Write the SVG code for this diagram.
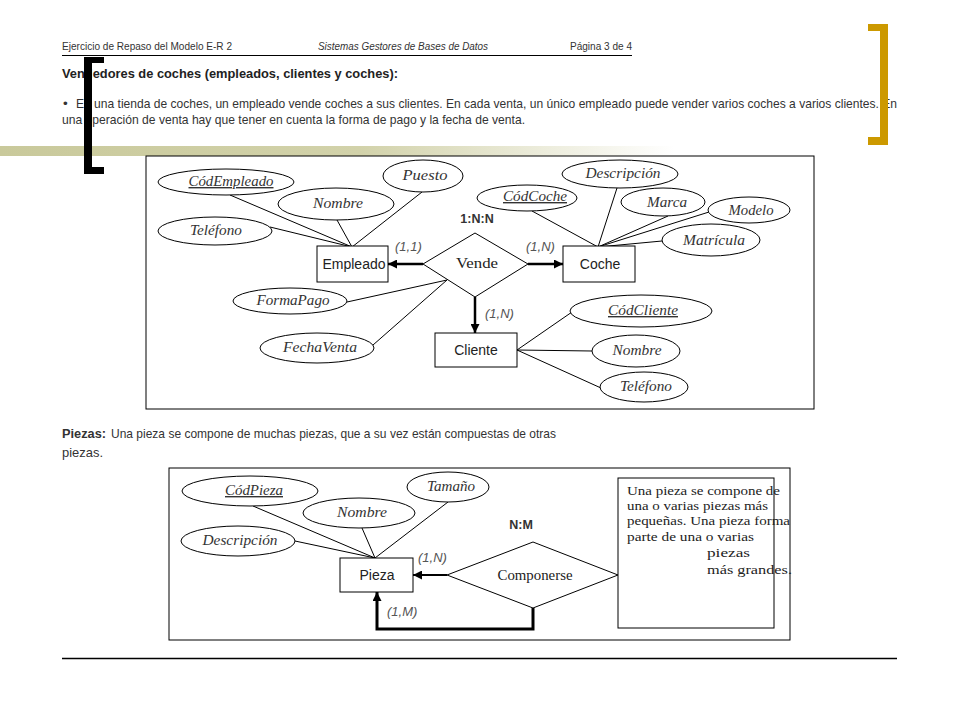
<svg xmlns="http://www.w3.org/2000/svg" width="960" height="720" viewBox="0 0 960 720">
<style>
.hdr{font-family:"Liberation Sans",Arial,sans-serif;font-size:10.5px;fill:#333}
.body{font-family:"Liberation Sans",Arial,sans-serif;font-size:13.5px;fill:#333}
.title{font-family:"Liberation Sans",Arial,sans-serif;font-size:13.5px;font-weight:bold;fill:#222}
.attr{font-family:"Liberation Serif","Times New Roman",serif;font-size:14px;font-style:italic;fill:#333;text-anchor:middle}
.key{text-decoration:underline}
.ell{fill:#fff;stroke:#000;stroke-width:1}
.ent{fill:#fff;stroke:#000;stroke-width:1}
.entt{font-family:"Liberation Sans",Arial,sans-serif;font-size:14px;fill:#222;text-anchor:middle}
.rel{fill:#fff;stroke:#000;stroke-width:1}
.relt{font-family:"Liberation Serif","Times New Roman",serif;font-size:14.5px;fill:#222;text-anchor:middle}
.card{font-family:"Liberation Sans",Arial,sans-serif;font-size:13px;font-style:italic;fill:#555}
.ratio{font-family:"Liberation Sans",Arial,sans-serif;font-size:12.5px;font-weight:bold;fill:#333;text-anchor:middle}
.ln{stroke:#000;stroke-width:1;fill:none}
.thick{stroke:#000;stroke-width:2.5;fill:none}
.note{font-family:"Liberation Serif","Times New Roman",serif;font-size:13.5px;fill:#222}
</style>
<defs>
<linearGradient id="bar" x1="0" y1="0" x2="1" y2="0">
<stop offset="0" stop-color="#C9C99B"/>
<stop offset="0.4" stop-color="#D2D2AA"/>
<stop offset="0.75" stop-color="#FFFFFF"/>
</linearGradient>
<marker id="ah" viewBox="0 0 10 10" refX="10" refY="5" markerUnits="userSpaceOnUse" markerWidth="9" markerHeight="9" orient="auto">
<path d="M0,0 L10,5 L0,10 z" fill="#000"/>
</marker>
</defs>
<rect width="960" height="720" fill="#fff"/>

<!-- decorative bar -->
<rect x="0" y="146" width="900" height="10" fill="url(#bar)"/>

<!-- header -->
<g id="header">
<text class="hdr" x="62" y="50" textLength="170" lengthAdjust="spacingAndGlyphs">Ejercicio de Repaso del Modelo E-R 2</text>
<text class="hdr" x="318" y="50" font-style="italic" textLength="170" lengthAdjust="spacingAndGlyphs">Sistemas Gestores de Bases de Datos</text>
<text class="hdr" x="570" y="50" textLength="62" lengthAdjust="spacingAndGlyphs">Página 3 de 4</text>
<line x1="62" y1="55.5" x2="632" y2="55.5" stroke="#000" stroke-width="1"/>
</g>

<g id="intro">
<text class="title" x="62" y="78" textLength="336" lengthAdjust="spacingAndGlyphs">Vendedores de coches (empleados, clientes y coches):</text>
<text class="body" x="63" y="108">•</text>
<text class="body" x="76" y="108" textLength="821" lengthAdjust="spacingAndGlyphs">En una tienda de coches, un empleado vende coches a sus clientes. En cada venta, un único empleado puede vender varios coches a varios clientes. En</text>
<text class="body" x="62" y="124" textLength="463" lengthAdjust="spacingAndGlyphs">una operación de venta hay que tener en cuenta la forma de pago y la fecha de venta.</text>
</g>

<!-- top diagram frame -->
<rect x="146" y="156" width="668" height="253" fill="none" stroke="#000" stroke-width="1"/>

<g id="connectors">
<!-- Empleado attributes -->
<line class="ln" x1="352" y1="247" x2="230" y2="195"/>
<line class="ln" x1="352" y1="247" x2="270" y2="227"/>
<line class="ln" x1="352" y1="247" x2="337" y2="220"/>
<line class="ln" x1="352" y1="247" x2="422" y2="192"/>
<!-- Coche attributes -->
<line class="ln" x1="598" y1="247" x2="532" y2="211"/>
<line class="ln" x1="598" y1="247" x2="617" y2="188"/>
<line class="ln" x1="598" y1="247" x2="668" y2="216"/>
<line class="ln" x1="598" y1="247" x2="709" y2="212"/>
<line class="ln" x1="598" y1="247" x2="662" y2="241"/>
<!-- Vende attributes -->
<line class="ln" x1="447" y1="280" x2="347" y2="302"/>
<line class="ln" x1="447" y1="280" x2="373" y2="345"/>
<!-- Cliente attributes -->
<line class="ln" x1="517" y1="350" x2="572" y2="312"/>
<line class="ln" x1="517" y1="350" x2="592" y2="351"/>
<line class="ln" x1="517" y1="350" x2="601" y2="388"/>
<!-- Vende arrows -->
<line class="thick" x1="423" y1="264" x2="388" y2="264" marker-end="url(#ah)"/>
<line class="thick" x1="528" y1="264" x2="563" y2="264" marker-end="url(#ah)"/>
<line class="thick" x1="475" y1="297" x2="475" y2="333" marker-end="url(#ah)"/>
<!-- Pieza attributes -->
<line class="ln" x1="375" y1="558" x2="253" y2="506"/>
<line class="ln" x1="375" y1="558" x2="295" y2="541"/>
<line class="ln" x1="375" y1="558" x2="362" y2="528"/>
<line class="ln" x1="375" y1="558" x2="448" y2="502"/>
<!-- Componerse -->
<line x1="447" y1="575" x2="413" y2="575" stroke="#000" stroke-width="2" marker-end="url(#ah)"/>
<path d="M533,608 V629 H377 V592" stroke="#000" stroke-width="3" fill="none" marker-end="url(#ah)"/>
</g>

<g id="cardinalities">
<text class="ratio" x="477" y="223">1:N:N</text>
<text class="card" x="395" y="251">(1,1)</text>
<text class="card" x="526" y="251">(1,N)</text>
<text class="card" x="485" y="318">(1,N)</text>
<text class="ratio" x="521" y="529">N:M</text>
<text class="card" x="418" y="562">(1,N)</text>
<text class="card" x="387" y="616">(1,M)</text>
</g>

<!-- entities -->
<g id="empleado"><rect class="ent" x="317" y="246" width="71" height="36"/><text class="entt" x="354" y="269">Empleado</text></g>
<g id="coche"><rect class="ent" x="563" y="246" width="72" height="36"/><text class="entt" x="600" y="269">Coche</text></g>
<g id="cliente"><rect class="ent" x="435" y="333" width="82" height="34"/><text class="entt" x="476" y="355">Cliente</text></g>
<g id="vende"><polygon class="rel" points="475,233 528,264 475,297 423,264"/><text class="relt" x="477" y="268" textLength="42" lengthAdjust="spacingAndGlyphs">Vende</text></g>

<!-- attributes top -->
<g id="codEmpleado"><ellipse class="ell" cx="226" cy="182" rx="68" ry="13"/><text class="attr key" x="231" y="186" textLength="85" lengthAdjust="spacingAndGlyphs">CódEmpleado</text></g>
<g id="nombreEmpleado"><ellipse class="ell" cx="336" cy="204" rx="58" ry="16"/><text class="attr" x="338" y="208" textLength="50" lengthAdjust="spacingAndGlyphs">Nombre</text></g>
<g id="telefonoEmpleado"><ellipse class="ell" cx="215" cy="231" rx="57" ry="14"/><text class="attr" x="216" y="235" textLength="52" lengthAdjust="spacingAndGlyphs">Teléfono</text></g>
<g id="puesto"><ellipse class="ell" cx="423" cy="176" rx="40" ry="16"/><text class="attr" x="425" y="180" textLength="45" lengthAdjust="spacingAndGlyphs">Puesto</text></g>
<g id="codCoche"><ellipse class="ell" cx="527" cy="198" rx="50" ry="13"/><text class="attr key" x="535" y="201" textLength="64" lengthAdjust="spacingAndGlyphs">CódCoche</text></g>
<g id="descripcionCoche"><ellipse class="ell" cx="620" cy="174" rx="58" ry="14"/><text class="attr" x="623" y="178" textLength="75" lengthAdjust="spacingAndGlyphs">Descripción</text></g>
<g id="marca"><ellipse class="ell" cx="663" cy="202" rx="42" ry="14"/><text class="attr" x="667" y="207" textLength="40" lengthAdjust="spacingAndGlyphs">Marca</text></g>
<g id="modelo"><ellipse class="ell" cx="749" cy="210" rx="41" ry="13"/><text class="attr" x="751" y="215" textLength="45" lengthAdjust="spacingAndGlyphs">Modelo</text></g>
<g id="matricula"><ellipse class="ell" cx="711" cy="240" rx="49" ry="16"/><text class="attr" x="714" y="245" textLength="62" lengthAdjust="spacingAndGlyphs">Matrícula</text></g>
<g id="formaPago"><ellipse class="ell" cx="290" cy="301" rx="57" ry="13"/><text class="attr" x="293" y="305" textLength="73" lengthAdjust="spacingAndGlyphs">FormaPago</text></g>
<g id="fechaVenta"><ellipse class="ell" cx="317" cy="348" rx="57" ry="15"/><text class="attr" x="320" y="352" textLength="74" lengthAdjust="spacingAndGlyphs">FechaVenta</text></g>
<g id="codCliente"><ellipse class="ell" cx="641" cy="311" rx="71" ry="16"/><text class="attr key" x="643" y="315" textLength="70" lengthAdjust="spacingAndGlyphs">CódCliente</text></g>
<g id="nombreCliente"><ellipse class="ell" cx="636" cy="351" rx="44" ry="16"/><text class="attr" x="637" y="355" textLength="49" lengthAdjust="spacingAndGlyphs">Nombre</text></g>
<g id="telefonoCliente"><ellipse class="ell" cx="644" cy="387" rx="44" ry="15"/><text class="attr" x="646" y="391" textLength="52" lengthAdjust="spacingAndGlyphs">Teléfono</text></g>

<!-- Piezas section -->
<g id="piezasText">
<text class="body" x="62" y="438" font-weight="bold" fill="#222" textLength="44" lengthAdjust="spacingAndGlyphs">Piezas:</text>
<text class="body" x="111" y="438" textLength="445" lengthAdjust="spacingAndGlyphs">Una pieza se compone de muchas piezas, que a su vez están compuestas de otras</text>
<text class="body" x="62" y="457" textLength="41" lengthAdjust="spacingAndGlyphs">piezas.</text>
</g>

<rect x="169" y="468" width="621" height="172" fill="none" stroke="#000" stroke-width="1"/>

<g id="pieza"><rect class="ent" x="340" y="558" width="73" height="34"/><text class="entt" x="377" y="580">Pieza</text></g>
<g id="componerse"><polygon class="rel" points="533,542 618,575 533,608 447,575"/><text class="relt" x="535" y="580" textLength="75" lengthAdjust="spacingAndGlyphs">Componerse</text></g>
<g id="codPieza"><ellipse class="ell" cx="250" cy="491" rx="68" ry="15"/><text class="attr key" x="254" y="495" textLength="58" lengthAdjust="spacingAndGlyphs">CódPieza</text></g>
<g id="nombrePieza"><ellipse class="ell" cx="359" cy="513" rx="56" ry="15"/><text class="attr" x="362" y="517" textLength="50" lengthAdjust="spacingAndGlyphs">Nombre</text></g>
<g id="descripcionPieza"><ellipse class="ell" cx="238" cy="541" rx="57" ry="15"/><text class="attr" x="240" y="545" textLength="75" lengthAdjust="spacingAndGlyphs">Descripción</text></g>
<g id="tamano"><ellipse class="ell" cx="448" cy="487" rx="41" ry="15"/><text class="attr" x="451" y="491" textLength="48" lengthAdjust="spacingAndGlyphs">Tamaño</text></g>

<g id="nota">
<rect x="618" y="478" width="156" height="150" fill="none" stroke="#000" stroke-width="1"/>
<text class="note" x="627" y="495" textLength="153" lengthAdjust="spacingAndGlyphs">Una pieza se compone  de</text>
<text class="note" x="627" y="510" textLength="141" lengthAdjust="spacingAndGlyphs">una o varias piezas  más</text>
<text class="note" x="627" y="525" textLength="163" lengthAdjust="spacingAndGlyphs">pequeñas. Una pieza  forma</text>
<text class="note" x="627" y="541" textLength="127" lengthAdjust="spacingAndGlyphs">parte de una o  varias</text>
<text class="note" x="707" y="557" textLength="43" lengthAdjust="spacingAndGlyphs">piezas</text>
<text class="note" x="707" y="574" textLength="85" lengthAdjust="spacingAndGlyphs">más  grandes.</text>
</g>

<line x1="62" y1="658.5" x2="897" y2="658.5" stroke="#000" stroke-width="1.5"/>

<!-- brackets -->
<path d="M84,57 H104 V63 H92 V167 H104 V174 H84 Z" fill="#000"/>
<path d="M888,24 H868 V31 H880 V137 H868 V145 H888 Z" fill="#CC9900"/>
</svg>
